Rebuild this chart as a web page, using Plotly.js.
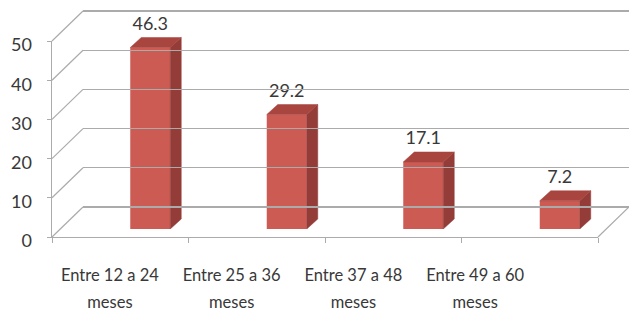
<!DOCTYPE html>
<html>
<head>
<meta charset="utf-8">
<script src="https://cdn.plot.ly/plotly-3.0.1.min.js"></script>
<style>html,body{margin:0;padding:0;background:#fff;}#chart{width:629px;height:311px;}</style>
</head>
<body>
<div id="chart"></div>
<script>
// ---- data ----
const categories = ['Entre 12 a 24 meses', 'Entre 25 a 36 meses', 'Entre 37 a 48 meses', 'Entre 49 a 60 meses'];
const values = [46.3, 29.2, 17.1, 7.2];
const yTicks = [0, 10, 20, 30, 40, 50];
const valueLabels = values.map(v => v.toFixed(1));
// category labels split over two lines (as in the original)
const catLine1 = categories.map(c => c.replace(/\s+meses$/, ''));
const catLine2 = categories.map(c => 'meses');

// ---- geometry (pixels) ----
const W = 629, H = 311;
const fx = p => p / W;
const fy = p => 1 - p / H;
const X0 = 52, X1 = 598, Y0 = 237, YMAX = 50;
const SCALE = 196 / 50;            // px per unit
const BACK = [31, -30];            // back wall offset
const BAR = [30, -8];              // bar front face offset
const catPx = (X1 - X0) / categories.length;
const barW = 40 / catPx;
const depthX = 11 / catPx, depthY = 10 / SCALE;
const labelLift = 3 / SCALE;
const idx = categories.map((c, i) => i);

const faceCol = '#cc5b54', topCol = '#a9453f', sideCol = '#933c38';
const gridCol = '#ababab';
const txtCol = '#383838';
const FONT = 'Lato, "Open Sans", sans-serif';

// side & top faces of the bars (computed from values)
const sx = [], sy = [], tx = [], ty = [];
idx.forEach(i => {
  const v = values[i];
  const xr = i + barW / 2, xl = i - barW / 2;
  sx.push(xr, xr + depthX, xr + depthX, xr, xr, null);
  sy.push(0, depthY, v + depthY, v, 0, null);
  tx.push(xl, xr, xr + depthX, xl + depthX, xl, null);
  ty.push(v, v, v + depthY, v + depthY, v, null);
});

const dummy = (xa, ya) => ({type: 'scatter', x: [0], y: [0], xaxis: xa, yaxis: ya, mode: 'markers',
  marker: {opacity: 0}, hoverinfo: 'skip', showlegend: false});

const traces = [
  dummy('x4', 'y4'),
  {type: 'bar', x: idx, y: values, width: barW, xaxis: 'x2', yaxis: 'y2',
   marker: {color: faceCol, line: {width: 0}}, hoverinfo: 'skip', showlegend: false},
  {type: 'scatter', x: sx, y: sy, xaxis: 'x2', yaxis: 'y2', mode: 'lines', fill: 'toself',
   fillcolor: sideCol, line: {color: sideCol, width: 0.5}, hoverinfo: 'skip', showlegend: false},
  {type: 'scatter', x: tx, y: ty, xaxis: 'x2', yaxis: 'y2', mode: 'lines', fill: 'toself',
   fillcolor: topCol, line: {color: topCol, width: 0.5}, hoverinfo: 'skip', showlegend: false},
  {type: 'scatter', x: idx, y: values.map(v => v + depthY + labelLift), text: valueLabels, xaxis: 'x2', yaxis: 'y2',
   mode: 'text', textposition: 'top center', cliponaxis: false,
   textfont: {family: FONT, size: 18, color: txtCol}, hoverinfo: 'skip', showlegend: false},
  dummy('x3', 'y3'),
  dummy('x5', 'y3'),
  dummy('x', 'y')
];

const yPx = v => Y0 - v * SCALE;
const shapes = yTicks.map(v => ({
  type: 'line', xref: 'paper', yref: 'paper',
  x0: fx(X0), y0: fy(yPx(v)), x1: fx(X0 + BACK[0]), y1: fy(yPx(v) + BACK[1]),
  line: {color: gridCol, width: 1.2}
}));
shapes.push({type: 'line', xref: 'paper', yref: 'paper',
  x0: fx(X1), y0: fy(Y0), x1: fx(X1 + BACK[0]), y1: fy(Y0 + BACK[1]),
  line: {color: gridCol, width: 1.2}});

const pad = 0.5;
const catAxis = (line, pos) => ({domain: [fx(49), fx(536)], range: [-0.5, categories.length - 0.5],
  anchor: 'free', position: pos, side: 'bottom', tickvals: idx, ticktext: line, ticks: '',
  showline: false, showgrid: false, zeroline: false,
  tickfont: {size: 16.5, color: txtCol, family: FONT}, fixedrange: true});

const layout = {
  width: W, height: H,
  margin: {l: 0, r: 0, t: 0, b: 0},
  paper_bgcolor: '#fff', plot_bgcolor: 'rgba(0,0,0,0)',
  showlegend: false,
  font: {family: FONT, color: txtCol, size: 17},
  shapes: shapes,
  // front axes (floor edge & left axis)
  xaxis: {domain: [fx(X0), fx(X1)], range: [-0.5, categories.length - 0.5], anchor: 'y',
    tickvals: [-0.5, 0.5, 1.5, 2.5, 3.5], ticks: 'outside', ticklen: 5, tickcolor: gridCol,
    showline: true, linecolor: gridCol, linewidth: 1.2, showticklabels: false,
    showgrid: false, zeroline: false, fixedrange: true},
  yaxis: {domain: [fy(Y0), fy(yPx(YMAX))], range: [0, YMAX], anchor: 'x',
    tickvals: yTicks, ticks: 'outside', ticklen: 4, tickcolor: gridCol,
    showline: true, linecolor: gridCol, linewidth: 1.2, showticklabels: false,
    showgrid: false, zeroline: false, fixedrange: true},
  // back wall gridlines
  xaxis4: {domain: [fx(X0 + BACK[0]), 1], range: [0, 1], anchor: 'y4', visible: false, fixedrange: true},
  yaxis4: {domain: [fy(Y0 + BACK[1] + pad * SCALE), fy(yPx(YMAX) + BACK[1] - pad * SCALE)],
    range: [-pad, YMAX + pad], anchor: 'x4', tickvals: yTicks, showgrid: true, gridcolor: gridCol,
    gridwidth: 1.2, showticklabels: false, ticks: '', zeroline: false, showline: false, fixedrange: true},
  // bars
  xaxis2: {domain: [fx(X0 + BAR[0]), fx(X1 + BAR[0])], range: [-0.5, categories.length - 0.5],
    anchor: 'y2', visible: false, fixedrange: true},
  yaxis2: {domain: [fy(Y0 + BAR[1]), fy(yPx(YMAX) + BAR[1])], range: [0, YMAX],
    anchor: 'x2', visible: false, fixedrange: true},
  // label axes
  xaxis3: catAxis(catLine1, fy(263)),
  xaxis5: catAxis(catLine2, fy(290)),
  yaxis3: {domain: [fy(Y0 + 4), fy(yPx(YMAX) + 4)], range: [0, YMAX], anchor: 'free',
    position: fx(52), side: 'left', tickvals: yTicks, ticks: '', ticklabelstandoff: 20,
    showline: false, showgrid: false, zeroline: false, tickfont: {size: 18, color: txtCol, family: FONT},
    fixedrange: true}
};

Plotly.newPlot('chart', traces, layout, {staticPlot: true, displayModeBar: false});
</script>
</body>
</html>
